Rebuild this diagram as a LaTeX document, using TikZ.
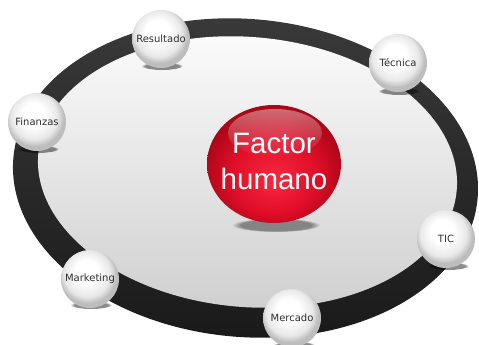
\documentclass[tikz,border=0pt]{standalone}
\usepackage{fontspec}
\setmainfont{DejaVu Sans}
\newfontfamily\hubfont{Liberation Sans}
\usetikzlibrary{shapes.geometric,fadings}
\definecolor{ringtop}{HTML}{3A3A3A}
\definecolor{ringbot}{HTML}{1A1A1A}
\definecolor{innertop}{HTML}{FCFCFC}
\definecolor{innerbot}{HTML}{D0D0D0}
\definecolor{labelcol}{HTML}{2E2E2E}
\definecolor{redA}{HTML}{F8293F}
\definecolor{redB}{HTML}{E00E28}
\definecolor{redC}{HTML}{AA0616}
\pgfdeclareradialshading{wball}{\pgfpoint{-4bp}{8bp}}{color(0bp)=(white); color(10bp)=(white); color(20bp)=(black!9); color(25bp)=(black!26); color(50bp)=(black!26)}
\pgfdeclareradialshading{rball}{\pgfpoint{0bp}{-7bp}}{color(0bp)=(redA); color(16bp)=(redB); color(27bp)=(redC); color(50bp)=(redC)}
\tikzset{
  ballnode/.style={circle, minimum size=58pt, inner sep=0pt, shade, shading=wball,
    font=\fontsize{10}{12}\selectfont, text=labelcol},
  ballshadow/.style={fill=black, fill opacity=0.45, path fading=circle with fuzzy edge 20 percent},
}
\begin{document}
\begin{tikzpicture}[x=1pt, y=-1pt]
\useasboundingbox (0,0) rectangle (479,345);
% ring
\coordinate (ringc) at (245.5,178);
\coordinate (innc) at (247.5,172);
\shade[top color=ringtop, bottom color=ringbot, rotate around={-5:(ringc)}]
  (ringc) ellipse [x radius=233pt, y radius=159pt];
\shade[top color=innertop, bottom color=innerbot, rotate around={-5:(innc)}]
  (innc) ellipse [x radius=210pt, y radius=135pt];
% shadows
\fill[ballshadow, fill opacity=0.4] (276,225) ellipse [x radius=44pt, y radius=7pt];
\foreach \x/\y in {160/39, 397/64, 36/122, 446/239, 89/278, 292/318}
  \fill[ballshadow] (\x+2,\y+27) ellipse [x radius=21pt, y radius=4pt];
% hub
\node[ellipse, minimum width=134pt, minimum height=118pt, inner sep=0pt, shade, shading=rball] (hub) at (274,164) {};
\fill[white, fill opacity=0.4, path fading=south] (275,133) ellipse [x radius=47pt, y radius=24pt];
\node[text=white, font=\hubfont\fontsize{29.5}{36}\selectfont, align=center, inner sep=0pt] (hubtext) at (274,161.5) {Factor\\humano};
% satellites
\node[ballnode] (res) at (161,39) {Resultado};
\node[ballnode] (tec) at (398,63) {Técnica};
\node[ballnode] (fin) at (37,122) {Finanzas};
\node[ballnode] (tic) at (446,239) {TIC};
\node[ballnode] (mkt) at (90,279) {Marketing};
\node[ballnode] (mer) at (292,318) {Mercado};
\end{tikzpicture}
\end{document}
